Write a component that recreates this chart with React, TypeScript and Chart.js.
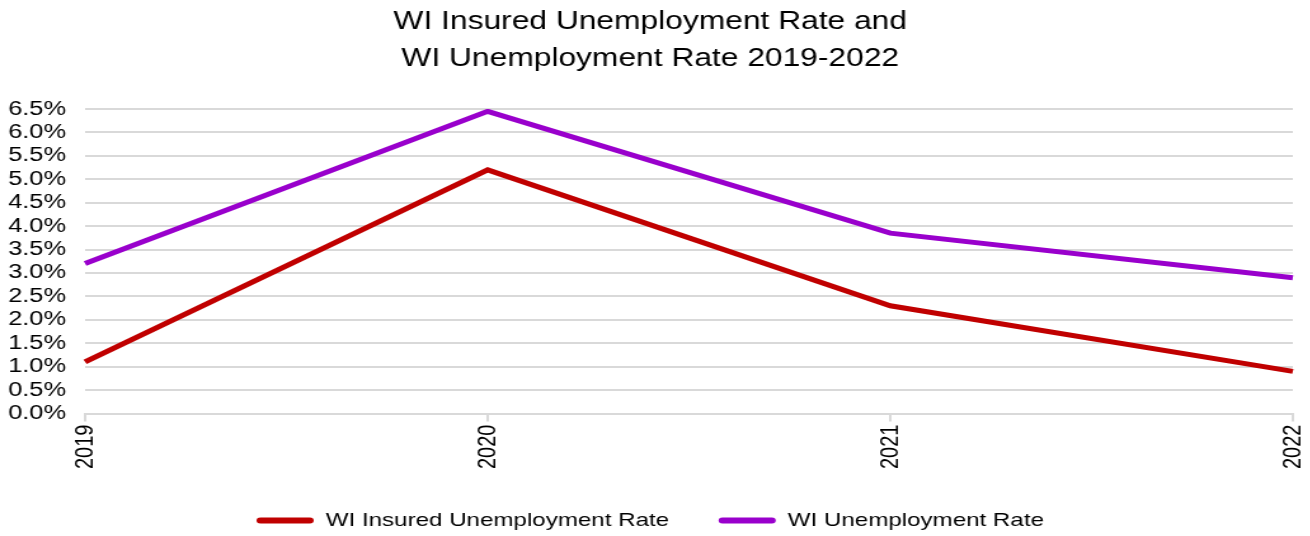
import React, { useEffect, useRef } from "react";
import { Chart, registerables } from "chart.js";

Chart.register(...registerables);

const years = ["2019", "2020", "2021", "2022"];
const insuredRate = [1.1, 5.2, 2.3, 0.9];
const unemploymentRate = [3.2, 6.45, 3.85, 2.9];
const titleLines = ["WI Insured Unemployment Rate and", "WI Unemployment Rate 2019-2022"];

const FONT = "'Liberation Sans', Arial, sans-serif";
const STRETCH = 1.27;
const W = 1310;
const H = 536;

export default function App() {
  const ref = useRef<HTMLCanvasElement | null>(null);
  useEffect(() => {
    document.body.style.margin = "0";
    const ctx = ref.current!;
    const chart = new Chart(ctx, {
      type: "line",
      data: {
        labels: years,
        datasets: [
          {
            label: "WI Insured Unemployment Rate",
            data: insuredRate,
            borderColor: "#C00000",
            backgroundColor: "#C00000",
            borderWidth: 5,
            pointRadius: 0,
            tension: 0,
          },
          {
            label: "WI Unemployment Rate",
            data: unemploymentRate,
            borderColor: "#9900CC",
            backgroundColor: "#9900CC",
            borderWidth: 5,
            pointRadius: 0,
            tension: 0,
          },
        ],
      },
      options: {
        animation: false,
        responsive: false,
        devicePixelRatio: 1,
        layout: { padding: { left: 6, right: 13, top: 4, bottom: -4 } },
        plugins: {
          title: {
            display: true,
            text: titleLines,
            color: "#000",
            font: { family: FONT, size: 25, weight: "normal", lineHeight: 1.48 },
            padding: { top: 0, bottom: 31 },
          },
          legend: {
            position: "bottom",
            labels: {
              color: "#000",
              font: { family: FONT, size: 19 },
              boxWidth: 45,
              boxHeight: 6,
              padding: 39,
              useBorderRadius: true,
              borderRadius: 3,
              generateLabels: (c: any) =>
                Chart.defaults.plugins.legend.labels.generateLabels(c).map((it: any) => ({
                  ...it,
                  lineWidth: 0,
                  strokeStyle: "rgba(0,0,0,0)",
                })),
            },
          },
          tooltip: { enabled: false },
        },
        scales: {
          x: {
            offset: false,
            afterFit: (s: any) => {
              s.paddingLeft = 0;
              s.paddingRight = 0;
            },
            grid: {
              display: true,
              drawOnChartArea: false,
              drawTicks: true,
              tickLength: 8,
              color: "#D9D9D9",
              lineWidth: 2,
            },
            border: { display: true, color: "#D9D9D9", width: 2 },
            ticks: {
              color: "#000",
              font: { family: FONT, size: 20 },
              maxRotation: 90,
              minRotation: 90,
              padding: 3,
            },
          },
          y: {
            min: 0,
            max: 6.5,
            afterFit: (s: any) => {
              s.width = 61;
            },
            grid: { color: "#D9D9D9", lineWidth: 2, drawTicks: false },
            border: { display: false },
            ticks: {
              stepSize: 0.5,
              autoSkip: false,
              color: "#000",
              font: { family: FONT, size: 20 },
              padding: 15,
              callback: (v: any) => Number(v).toFixed(1) + "%",
            },
          },
        },
      },
    });
    return () => chart.destroy();
  }, []);
  return (
    <div style={{ width: W, height: H, overflow: "hidden" }}>
      <div style={{ transform: `scaleX(${STRETCH})`, transformOrigin: "0 0", width: Math.round(W / STRETCH) }}>
        <canvas ref={ref} width={Math.round(W / STRETCH)} height={H} style={{ display: "block" }} />
      </div>
    </div>
  );
}
